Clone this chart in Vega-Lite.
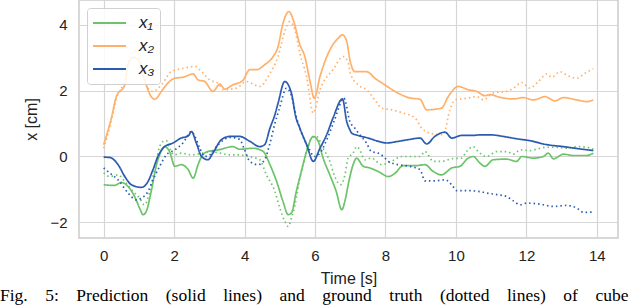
{
  "$schema": "https://vega.github.io/schema/vega-lite/v6.json",
  "width": 539,
  "height": 238,
  "autosize": "none",
  "padding": {"left": 79, "top": 0, "right": 22, "bottom": 69},
  "title": {
    "text": "Fig.\u00a0\u00a0\u00a0 5:\u00a0\u00a0\u00a0 Prediction\u00a0\u00a0\u00a0 (solid\u00a0\u00a0\u00a0 lines)\u00a0\u00a0\u00a0 and\u00a0\u00a0\u00a0 ground\u00a0\u00a0\u00a0 truth\u00a0\u00a0\u00a0 (dotted\u00a0\u00a0\u00a0 lines)\u00a0\u00a0\u00a0 of\u00a0\u00a0\u00a0 cube",
    "orient": "bottom",
    "anchor": "start",
    "frame": "group",
    "dx": -79,
    "offset": 1,
    "font": "Liberation Serif",
    "fontSize": 17.5,
    "fontWeight": "normal",
    "color": "#000000"
  },
  "config": {
    "view": {"stroke": "#cccccc", "strokeWidth": 1.5},
    "axis": {
      "labelFont": "Liberation Sans",
      "titleFont": "Liberation Sans",
      "labelFontSize": 15,
      "titleFontSize": 16,
      "titleFontWeight": "normal",
      "labelColor": "#222222",
      "titleColor": "#222222",
      "domain": false,
      "ticks": false,
      "gridColor": "#d6d6d6",
      "gridWidth": 1.2
    }
  },
  "data": {
    "values": [
      {"t":0,"v":-0.86,"s":"x₁","k":"p"},{"t":0.31,"v":-0.88,"s":"x₁","k":"p"},{"t":0.5,"v":-0.79,"s":"x₁","k":"p"},{"t":0.69,"v":-0.91,"s":"x₁","k":"p"},{"t":0.88,"v":-1.22,"s":"x₁","k":"p"},{"t":1.02,"v":-1.57,"s":"x₁","k":"p"},{"t":1.12,"v":-1.77,"s":"x₁","k":"p"},{"t":1.21,"v":-1.67,"s":"x₁","k":"p"},{"t":1.35,"v":-1.06,"s":"x₁","k":"p"},{"t":1.5,"v":-0.25,"s":"x₁","k":"p"},{"t":1.59,"v":0.05,"s":"x₁","k":"p"},{"t":1.73,"v":0.3,"s":"x₁","k":"p"},{"t":1.87,"v":0.15,"s":"x₁","k":"p"},{"t":2.02,"v":-0.3,"s":"x₁","k":"p"},{"t":2.2,"v":-0.25,"s":"x₁","k":"p"},{"t":2.4,"v":-0.4,"s":"x₁","k":"p"},{"t":2.54,"v":-0.66,"s":"x₁","k":"p"},{"t":2.68,"v":-0.25,"s":"x₁","k":"p"},{"t":2.78,"v":0,"s":"x₁","k":"p"},{"t":2.96,"v":0.15,"s":"x₁","k":"p"},{"t":3.25,"v":0.2,"s":"x₁","k":"p"},{"t":3.67,"v":0.3,"s":"x₁","k":"p"},{"t":3.86,"v":0.22,"s":"x₁","k":"p"},{"t":4.24,"v":0.25,"s":"x₁","k":"p"},{"t":4.53,"v":0.15,"s":"x₁","k":"p"},{"t":4.72,"v":-0.25,"s":"x₁","k":"p"},{"t":4.91,"v":-0.76,"s":"x₁","k":"p"},{"t":5.09,"v":-1.37,"s":"x₁","k":"p"},{"t":5.24,"v":-1.77,"s":"x₁","k":"p"},{"t":5.33,"v":-1.72,"s":"x₁","k":"p"},{"t":5.47,"v":-1.06,"s":"x₁","k":"p"},{"t":5.61,"v":-0.46,"s":"x₁","k":"p"},{"t":5.76,"v":0.15,"s":"x₁","k":"p"},{"t":5.95,"v":0.61,"s":"x₁","k":"p"},{"t":6.09,"v":0.46,"s":"x₁","k":"p"},{"t":6.23,"v":-0.05,"s":"x₁","k":"p"},{"t":6.42,"v":-0.56,"s":"x₁","k":"p"},{"t":6.6,"v":-1.06,"s":"x₁","k":"p"},{"t":6.76,"v":-1.62,"s":"x₁","k":"p"},{"t":6.86,"v":-1.3,"s":"x₁","k":"p"},{"t":6.96,"v":-0.76,"s":"x₁","k":"p"},{"t":7.08,"v":-0.25,"s":"x₁","k":"p"},{"t":7.18,"v":-0.05,"s":"x₁","k":"p"},{"t":7.37,"v":-0.3,"s":"x₁","k":"p"},{"t":7.56,"v":-0.35,"s":"x₁","k":"p"},{"t":7.8,"v":-0.46,"s":"x₁","k":"p"},{"t":8.08,"v":-0.61,"s":"x₁","k":"p"},{"t":8.27,"v":-0.51,"s":"x₁","k":"p"},{"t":8.5,"v":-0.28,"s":"x₁","k":"p"},{"t":8.84,"v":-0.28,"s":"x₁","k":"p"},{"t":9.12,"v":-0.25,"s":"x₁","k":"p"},{"t":9.36,"v":-0.46,"s":"x₁","k":"p"},{"t":9.59,"v":-0.56,"s":"x₁","k":"p"},{"t":9.88,"v":-0.35,"s":"x₁","k":"p"},{"t":10.11,"v":-0.3,"s":"x₁","k":"p"},{"t":10.35,"v":-0.05,"s":"x₁","k":"p"},{"t":10.49,"v":0,"s":"x₁","k":"p"},{"t":10.68,"v":-0.2,"s":"x₁","k":"p"},{"t":10.82,"v":-0.3,"s":"x₁","k":"p"},{"t":11.06,"v":-0.1,"s":"x₁","k":"p"},{"t":11.44,"v":-0.08,"s":"x₁","k":"p"},{"t":11.72,"v":-0.15,"s":"x₁","k":"p"},{"t":11.87,"v":0,"s":"x₁","k":"p"},{"t":12.2,"v":-0.05,"s":"x₁","k":"p"},{"t":12.48,"v":0,"s":"x₁","k":"p"},{"t":12.62,"v":0.1,"s":"x₁","k":"p"},{"t":12.77,"v":-0.07,"s":"x₁","k":"p"},{"t":13.05,"v":0.07,"s":"x₁","k":"p"},{"t":13.33,"v":0.03,"s":"x₁","k":"p"},{"t":13.71,"v":0.03,"s":"x₁","k":"p"},{"t":13.9,"v":0.1,"s":"x₁","k":"p"},

      {"t":0,"v":-0.5,"s":"x₁","k":"t"},{"t":0.17,"v":-0.61,"s":"x₁","k":"t"},{"t":0.41,"v":-0.56,"s":"x₁","k":"t"},{"t":0.6,"v":-0.76,"s":"x₁","k":"t"},{"t":0.79,"v":-1.01,"s":"x₁","k":"t"},{"t":1.02,"v":-1.27,"s":"x₁","k":"t"},{"t":1.16,"v":-1.47,"s":"x₁","k":"t"},{"t":1.31,"v":-1.06,"s":"x₁","k":"t"},{"t":1.45,"v":-0.35,"s":"x₁","k":"t"},{"t":1.59,"v":0.3,"s":"x₁","k":"t"},{"t":1.69,"v":0.46,"s":"x₁","k":"t"},{"t":1.78,"v":0.48,"s":"x₁","k":"t"},{"t":1.87,"v":0.25,"s":"x₁","k":"t"},{"t":2.0,"v":0.05,"s":"x₁","k":"t"},{"t":2.2,"v":0.1,"s":"x₁","k":"t"},{"t":2.5,"v":0.05,"s":"x₁","k":"t"},{"t":2.8,"v":0.1,"s":"x₁","k":"t"},{"t":3.0,"v":0.15,"s":"x₁","k":"t"},{"t":3.3,"v":0.1,"s":"x₁","k":"t"},{"t":3.6,"v":0.05,"s":"x₁","k":"t"},{"t":3.85,"v":0.05,"s":"x₁","k":"t"},{"t":4.1,"v":0,"s":"x₁","k":"t"},{"t":4.43,"v":-0.1,"s":"x₁","k":"t"},{"t":4.62,"v":-0.56,"s":"x₁","k":"t"},{"t":4.86,"v":-1.06,"s":"x₁","k":"t"},{"t":5.0,"v":-1.57,"s":"x₁","k":"t"},{"t":5.14,"v":-1.97,"s":"x₁","k":"t"},{"t":5.24,"v":-2.13,"s":"x₁","k":"t"},{"t":5.33,"v":-1.87,"s":"x₁","k":"t"},{"t":5.43,"v":-1.47,"s":"x₁","k":"t"},{"t":5.57,"v":-0.66,"s":"x₁","k":"t"},{"t":5.76,"v":0.15,"s":"x₁","k":"t"},{"t":5.9,"v":0.56,"s":"x₁","k":"t"},{"t":6.04,"v":0.61,"s":"x₁","k":"t"},{"t":6.23,"v":0.25,"s":"x₁","k":"t"},{"t":6.42,"v":-0.15,"s":"x₁","k":"t"},{"t":6.56,"v":-0.61,"s":"x₁","k":"t"},{"t":6.72,"v":-0.86,"s":"x₁","k":"t"},{"t":6.85,"v":-0.56,"s":"x₁","k":"t"},{"t":6.94,"v":-0.05,"s":"x₁","k":"t"},{"t":7.08,"v":0.1,"s":"x₁","k":"t"},{"t":7.18,"v":0.3,"s":"x₁","k":"t"},{"t":7.27,"v":0.2,"s":"x₁","k":"t"},{"t":7.41,"v":-0.1,"s":"x₁","k":"t"},{"t":7.6,"v":-0.05,"s":"x₁","k":"t"},{"t":7.89,"v":-0.25,"s":"x₁","k":"t"},{"t":8.17,"v":-0.15,"s":"x₁","k":"t"},{"t":8.46,"v":0,"s":"x₁","k":"t"},{"t":8.74,"v":0,"s":"x₁","k":"t"},{"t":8.98,"v":0,"s":"x₁","k":"t"},{"t":9.12,"v":0.15,"s":"x₁","k":"t"},{"t":9.36,"v":-0.15,"s":"x₁","k":"t"},{"t":9.59,"v":-0.15,"s":"x₁","k":"t"},{"t":9.88,"v":-0.07,"s":"x₁","k":"t"},{"t":10.16,"v":-0.05,"s":"x₁","k":"t"},{"t":10.3,"v":0.15,"s":"x₁","k":"t"},{"t":10.49,"v":0.3,"s":"x₁","k":"t"},{"t":10.63,"v":0.15,"s":"x₁","k":"t"},{"t":10.87,"v":0,"s":"x₁","k":"t"},{"t":11.16,"v":0.15,"s":"x₁","k":"t"},{"t":11.44,"v":0.15,"s":"x₁","k":"t"},{"t":11.63,"v":0.07,"s":"x₁","k":"t"},{"t":11.82,"v":0.2,"s":"x₁","k":"t"},{"t":12.1,"v":0.18,"s":"x₁","k":"t"},{"t":12.39,"v":0.25,"s":"x₁","k":"t"},{"t":12.58,"v":0.28,"s":"x₁","k":"t"},{"t":12.86,"v":0.28,"s":"x₁","k":"t"},{"t":13.14,"v":0.25,"s":"x₁","k":"t"},{"t":13.43,"v":0.3,"s":"x₁","k":"t"},{"t":13.71,"v":0.28,"s":"x₁","k":"t"},{"t":13.9,"v":0.22,"s":"x₁","k":"t"},

      {"t":0,"v":0.36,"s":"x₂","k":"p"},{"t":0.22,"v":1.17,"s":"x₂","k":"p"},{"t":0.36,"v":1.82,"s":"x₂","k":"p"},{"t":0.6,"v":2.18,"s":"x₂","k":"p"},{"t":0.68,"v":2.74,"s":"x₂","k":"p"},{"t":0.79,"v":2.99,"s":"x₂","k":"p"},{"t":0.86,"v":3.02,"s":"x₂","k":"p"},{"t":0.98,"v":2.94,"s":"x₂","k":"p"},{"t":1.16,"v":2.33,"s":"x₂","k":"p"},{"t":1.35,"v":1.82,"s":"x₂","k":"p"},{"t":1.45,"v":1.74,"s":"x₂","k":"p"},{"t":1.64,"v":1.98,"s":"x₂","k":"p"},{"t":1.78,"v":2.18,"s":"x₂","k":"p"},{"t":2.02,"v":2.38,"s":"x₂","k":"p"},{"t":2.25,"v":2.41,"s":"x₂","k":"p"},{"t":2.54,"v":2.51,"s":"x₂","k":"p"},{"t":2.68,"v":2.33,"s":"x₂","k":"p"},{"t":2.87,"v":2.28,"s":"x₂","k":"p"},{"t":3.1,"v":1.98,"s":"x₂","k":"p"},{"t":3.3,"v":2.2,"s":"x₂","k":"p"},{"t":3.44,"v":2.05,"s":"x₂","k":"p"},{"t":3.67,"v":2.18,"s":"x₂","k":"p"},{"t":3.94,"v":2.3,"s":"x₂","k":"p"},{"t":4.15,"v":2.64,"s":"x₂","k":"p"},{"t":4.34,"v":2.64,"s":"x₂","k":"p"},{"t":4.57,"v":2.79,"s":"x₂","k":"p"},{"t":4.81,"v":3.04,"s":"x₂","k":"p"},{"t":4.95,"v":3.34,"s":"x₂","k":"p"},{"t":5.09,"v":4.05,"s":"x₂","k":"p"},{"t":5.26,"v":4.41,"s":"x₂","k":"p"},{"t":5.38,"v":4.16,"s":"x₂","k":"p"},{"t":5.57,"v":3.4,"s":"x₂","k":"p"},{"t":5.71,"v":3.04,"s":"x₂","k":"p"},{"t":5.85,"v":2.33,"s":"x₂","k":"p"},{"t":5.98,"v":1.77,"s":"x₂","k":"p"},{"t":6.14,"v":2.43,"s":"x₂","k":"p"},{"t":6.42,"v":3.24,"s":"x₂","k":"p"},{"t":6.66,"v":3.6,"s":"x₂","k":"p"},{"t":6.78,"v":3.7,"s":"x₂","k":"p"},{"t":6.9,"v":3.5,"s":"x₂","k":"p"},{"t":6.99,"v":2.94,"s":"x₂","k":"p"},{"t":7.13,"v":2.58,"s":"x₂","k":"p"},{"t":7.46,"v":2.58,"s":"x₂","k":"p"},{"t":7.7,"v":2.38,"s":"x₂","k":"p"},{"t":7.98,"v":2.18,"s":"x₂","k":"p"},{"t":8.27,"v":1.98,"s":"x₂","k":"p"},{"t":8.69,"v":1.78,"s":"x₂","k":"p"},{"t":8.98,"v":1.74,"s":"x₂","k":"p"},{"t":9.17,"v":1.42,"s":"x₂","k":"p"},{"t":9.59,"v":1.47,"s":"x₂","k":"p"},{"t":9.78,"v":1.82,"s":"x₂","k":"p"},{"t":10.07,"v":2.13,"s":"x₂","k":"p"},{"t":10.35,"v":2.03,"s":"x₂","k":"p"},{"t":10.59,"v":1.98,"s":"x₂","k":"p"},{"t":10.82,"v":1.85,"s":"x₂","k":"p"},{"t":10.97,"v":1.88,"s":"x₂","k":"p"},{"t":11.25,"v":1.8,"s":"x₂","k":"p"},{"t":11.63,"v":1.75,"s":"x₂","k":"p"},{"t":11.91,"v":1.79,"s":"x₂","k":"p"},{"t":12.2,"v":1.72,"s":"x₂","k":"p"},{"t":12.53,"v":1.82,"s":"x₂","k":"p"},{"t":12.81,"v":1.69,"s":"x₂","k":"p"},{"t":13.05,"v":1.79,"s":"x₂","k":"p"},{"t":13.43,"v":1.72,"s":"x₂","k":"p"},{"t":13.71,"v":1.67,"s":"x₂","k":"p"},{"t":13.9,"v":1.72,"s":"x₂","k":"p"},

      {"t":0,"v":0.25,"s":"x₂","k":"t"},{"t":0.2,"v":1.0,"s":"x₂","k":"t"},{"t":0.36,"v":1.75,"s":"x₂","k":"t"},{"t":0.55,"v":2.2,"s":"x₂","k":"t"},{"t":0.7,"v":2.85,"s":"x₂","k":"t"},{"t":0.86,"v":3.22,"s":"x₂","k":"t"},{"t":1.0,"v":3.1,"s":"x₂","k":"t"},{"t":1.12,"v":2.6,"s":"x₂","k":"t"},{"t":1.26,"v":2.08,"s":"x₂","k":"t"},{"t":1.4,"v":1.98,"s":"x₂","k":"t"},{"t":1.64,"v":2.18,"s":"x₂","k":"t"},{"t":1.92,"v":2.58,"s":"x₂","k":"t"},{"t":2.3,"v":2.69,"s":"x₂","k":"t"},{"t":2.59,"v":2.74,"s":"x₂","k":"t"},{"t":2.78,"v":2.58,"s":"x₂","k":"t"},{"t":3.01,"v":2.33,"s":"x₂","k":"t"},{"t":3.25,"v":2.23,"s":"x₂","k":"t"},{"t":3.4,"v":2.03,"s":"x₂","k":"t"},{"t":3.77,"v":2.08,"s":"x₂","k":"t"},{"t":4.05,"v":2.28,"s":"x₂","k":"t"},{"t":4.43,"v":2.13,"s":"x₂","k":"t"},{"t":4.72,"v":2.53,"s":"x₂","k":"t"},{"t":4.95,"v":3.04,"s":"x₂","k":"t"},{"t":5.14,"v":3.8,"s":"x₂","k":"t"},{"t":5.28,"v":4.1,"s":"x₂","k":"t"},{"t":5.43,"v":3.85,"s":"x₂","k":"t"},{"t":5.57,"v":3.14,"s":"x₂","k":"t"},{"t":5.76,"v":2.43,"s":"x₂","k":"t"},{"t":5.95,"v":1.32,"s":"x₂","k":"t"},{"t":6.14,"v":2.03,"s":"x₂","k":"t"},{"t":6.51,"v":2.64,"s":"x₂","k":"t"},{"t":6.8,"v":3.04,"s":"x₂","k":"t"},{"t":6.94,"v":2.86,"s":"x₂","k":"t"},{"t":7.0,"v":2.53,"s":"x₂","k":"t"},{"t":7.22,"v":2.18,"s":"x₂","k":"t"},{"t":7.46,"v":2.03,"s":"x₂","k":"t"},{"t":7.7,"v":1.72,"s":"x₂","k":"t"},{"t":7.89,"v":1.47,"s":"x₂","k":"t"},{"t":8.17,"v":1.42,"s":"x₂","k":"t"},{"t":8.5,"v":1.32,"s":"x₂","k":"t"},{"t":8.84,"v":1.17,"s":"x₂","k":"t"},{"t":9.0,"v":0.9,"s":"x₂","k":"t"},{"t":9.26,"v":0.71,"s":"x₂","k":"t"},{"t":9.64,"v":0.66,"s":"x₂","k":"t"},{"t":9.83,"v":1.42,"s":"x₂","k":"t"},{"t":9.97,"v":1.72,"s":"x₂","k":"t"},{"t":10.3,"v":1.77,"s":"x₂","k":"t"},{"t":10.59,"v":1.82,"s":"x₂","k":"t"},{"t":10.78,"v":1.72,"s":"x₂","k":"t"},{"t":11.06,"v":1.93,"s":"x₂","k":"t"},{"t":11.44,"v":1.98,"s":"x₂","k":"t"},{"t":11.63,"v":2.08,"s":"x₂","k":"t"},{"t":11.87,"v":2.25,"s":"x₂","k":"t"},{"t":12.1,"v":2.08,"s":"x₂","k":"t"},{"t":12.34,"v":2.28,"s":"x₂","k":"t"},{"t":12.58,"v":2.51,"s":"x₂","k":"t"},{"t":12.72,"v":2.41,"s":"x₂","k":"t"},{"t":12.95,"v":2.58,"s":"x₂","k":"t"},{"t":13.19,"v":2.45,"s":"x₂","k":"t"},{"t":13.43,"v":2.38,"s":"x₂","k":"t"},{"t":13.66,"v":2.53,"s":"x₂","k":"t"},{"t":13.9,"v":2.67,"s":"x₂","k":"t"},

      {"t":0,"v":-0.02,"s":"x₃","k":"p"},{"t":0.17,"v":-0.03,"s":"x₃","k":"p"},{"t":0.41,"v":-0.25,"s":"x₃","k":"p"},{"t":0.6,"v":-0.61,"s":"x₃","k":"p"},{"t":0.79,"v":-0.86,"s":"x₃","k":"p"},{"t":1.07,"v":-0.94,"s":"x₃","k":"p"},{"t":1.26,"v":-0.76,"s":"x₃","k":"p"},{"t":1.4,"v":-0.4,"s":"x₃","k":"p"},{"t":1.54,"v":0,"s":"x₃","k":"p"},{"t":1.73,"v":0.3,"s":"x₃","k":"p"},{"t":1.97,"v":0.41,"s":"x₃","k":"p"},{"t":2.2,"v":0.56,"s":"x₃","k":"p"},{"t":2.4,"v":0.62,"s":"x₃","k":"p"},{"t":2.49,"v":0.76,"s":"x₃","k":"p"},{"t":2.63,"v":0.41,"s":"x₃","k":"p"},{"t":2.78,"v":0,"s":"x₃","k":"p"},{"t":2.96,"v":-0.1,"s":"x₃","k":"p"},{"t":3.1,"v":0.1,"s":"x₃","k":"p"},{"t":3.34,"v":0.51,"s":"x₃","k":"p"},{"t":3.58,"v":0.61,"s":"x₃","k":"p"},{"t":3.86,"v":0.61,"s":"x₃","k":"p"},{"t":4.15,"v":0.46,"s":"x₃","k":"p"},{"t":4.43,"v":0.3,"s":"x₃","k":"p"},{"t":4.57,"v":0.36,"s":"x₃","k":"p"},{"t":4.72,"v":0.86,"s":"x₃","k":"p"},{"t":4.86,"v":1.27,"s":"x₃","k":"p"},{"t":4.95,"v":1.62,"s":"x₃","k":"p"},{"t":5.14,"v":2.28,"s":"x₃","k":"p"},{"t":5.33,"v":1.93,"s":"x₃","k":"p"},{"t":5.45,"v":1.22,"s":"x₃","k":"p"},{"t":5.57,"v":0.86,"s":"x₃","k":"p"},{"t":5.76,"v":0.36,"s":"x₃","k":"p"},{"t":5.95,"v":-0.15,"s":"x₃","k":"p"},{"t":6.14,"v":0.25,"s":"x₃","k":"p"},{"t":6.33,"v":0.66,"s":"x₃","k":"p"},{"t":6.51,"v":1.17,"s":"x₃","k":"p"},{"t":6.78,"v":1.75,"s":"x₃","k":"p"},{"t":6.9,"v":1.06,"s":"x₃","k":"p"},{"t":6.99,"v":0.81,"s":"x₃","k":"p"},{"t":7.04,"v":0.71,"s":"x₃","k":"p"},{"t":7.22,"v":0.64,"s":"x₃","k":"p"},{"t":7.51,"v":0.56,"s":"x₃","k":"p"},{"t":7.8,"v":0.46,"s":"x₃","k":"p"},{"t":8.03,"v":0.41,"s":"x₃","k":"p"},{"t":8.36,"v":0.46,"s":"x₃","k":"p"},{"t":8.64,"v":0.51,"s":"x₃","k":"p"},{"t":8.98,"v":0.56,"s":"x₃","k":"p"},{"t":9.17,"v":0.38,"s":"x₃","k":"p"},{"t":9.4,"v":0.61,"s":"x₃","k":"p"},{"t":9.69,"v":0.74,"s":"x₃","k":"p"},{"t":9.88,"v":0.56,"s":"x₃","k":"p"},{"t":10.16,"v":0.64,"s":"x₃","k":"p"},{"t":10.45,"v":0.64,"s":"x₃","k":"p"},{"t":10.73,"v":0.66,"s":"x₃","k":"p"},{"t":10.97,"v":0.66,"s":"x₃","k":"p"},{"t":11.34,"v":0.61,"s":"x₃","k":"p"},{"t":11.72,"v":0.54,"s":"x₃","k":"p"},{"t":12.1,"v":0.48,"s":"x₃","k":"p"},{"t":12.58,"v":0.36,"s":"x₃","k":"p"},{"t":13.05,"v":0.3,"s":"x₃","k":"p"},{"t":13.52,"v":0.23,"s":"x₃","k":"p"},{"t":13.9,"v":0.18,"s":"x₃","k":"p"},

      {"t":0,"v":-0.35,"s":"x₃","k":"t"},{"t":0.17,"v":-0.5,"s":"x₃","k":"t"},{"t":0.41,"v":-0.71,"s":"x₃","k":"t"},{"t":0.69,"v":-1.11,"s":"x₃","k":"t"},{"t":0.93,"v":-1.32,"s":"x₃","k":"t"},{"t":1.07,"v":-1.27,"s":"x₃","k":"t"},{"t":1.26,"v":-1.06,"s":"x₃","k":"t"},{"t":1.4,"v":-0.71,"s":"x₃","k":"t"},{"t":1.59,"v":-0.3,"s":"x₃","k":"t"},{"t":1.78,"v":0.05,"s":"x₃","k":"t"},{"t":2.02,"v":0.2,"s":"x₃","k":"t"},{"t":2.25,"v":0.41,"s":"x₃","k":"t"},{"t":2.49,"v":0.76,"s":"x₃","k":"t"},{"t":2.59,"v":0.61,"s":"x₃","k":"t"},{"t":2.73,"v":0.25,"s":"x₃","k":"t"},{"t":2.87,"v":0,"s":"x₃","k":"t"},{"t":3.01,"v":0.05,"s":"x₃","k":"t"},{"t":3.2,"v":0.3,"s":"x₃","k":"t"},{"t":3.4,"v":0.5,"s":"x₃","k":"t"},{"t":3.6,"v":0.58,"s":"x₃","k":"t"},{"t":3.86,"v":0.52,"s":"x₃","k":"t"},{"t":4.0,"v":0.2,"s":"x₃","k":"t"},{"t":4.15,"v":-0.15,"s":"x₃","k":"t"},{"t":4.38,"v":-0.25,"s":"x₃","k":"t"},{"t":4.57,"v":-0.1,"s":"x₃","k":"t"},{"t":4.72,"v":0.4,"s":"x₃","k":"t"},{"t":4.86,"v":1.0,"s":"x₃","k":"t"},{"t":5.0,"v":1.5,"s":"x₃","k":"t"},{"t":5.19,"v":2.08,"s":"x₃","k":"t"},{"t":5.33,"v":1.85,"s":"x₃","k":"t"},{"t":5.47,"v":1.2,"s":"x₃","k":"t"},{"t":5.62,"v":0.7,"s":"x₃","k":"t"},{"t":5.8,"v":0.3,"s":"x₃","k":"t"},{"t":5.98,"v":0,"s":"x₃","k":"t"},{"t":6.14,"v":0.1,"s":"x₃","k":"t"},{"t":6.33,"v":0.5,"s":"x₃","k":"t"},{"t":6.55,"v":1.1,"s":"x₃","k":"t"},{"t":6.82,"v":1.77,"s":"x₃","k":"t"},{"t":6.99,"v":1.06,"s":"x₃","k":"t"},{"t":7.13,"v":0.86,"s":"x₃","k":"t"},{"t":7.27,"v":0.66,"s":"x₃","k":"t"},{"t":7.46,"v":0.41,"s":"x₃","k":"t"},{"t":7.6,"v":0.15,"s":"x₃","k":"t"},{"t":7.8,"v":0.1,"s":"x₃","k":"t"},{"t":7.94,"v":0,"s":"x₃","k":"t"},{"t":8.08,"v":-0.15,"s":"x₃","k":"t"},{"t":8.36,"v":-0.25,"s":"x₃","k":"t"},{"t":8.69,"v":-0.3,"s":"x₃","k":"t"},{"t":8.98,"v":-0.4,"s":"x₃","k":"t"},{"t":9.12,"v":-0.74,"s":"x₃","k":"t"},{"t":9.4,"v":-0.74,"s":"x₃","k":"t"},{"t":9.69,"v":-0.71,"s":"x₃","k":"t"},{"t":9.88,"v":-0.86,"s":"x₃","k":"t"},{"t":10.02,"v":-1.04,"s":"x₃","k":"t"},{"t":10.35,"v":-1.04,"s":"x₃","k":"t"},{"t":10.63,"v":-1.06,"s":"x₃","k":"t"},{"t":10.87,"v":-1.11,"s":"x₃","k":"t"},{"t":11.16,"v":-1.16,"s":"x₃","k":"t"},{"t":11.44,"v":-1.22,"s":"x₃","k":"t"},{"t":11.63,"v":-1.35,"s":"x₃","k":"t"},{"t":11.82,"v":-1.47,"s":"x₃","k":"t"},{"t":12.01,"v":-1.42,"s":"x₃","k":"t"},{"t":12.39,"v":-1.45,"s":"x₃","k":"t"},{"t":12.77,"v":-1.52,"s":"x₃","k":"t"},{"t":13.14,"v":-1.49,"s":"x₃","k":"t"},{"t":13.43,"v":-1.57,"s":"x₃","k":"t"},{"t":13.62,"v":-1.7,"s":"x₃","k":"t"},{"t":13.9,"v":-1.69,"s":"x₃","k":"t"}
    ]
  },
  "mark": {"type": "line", "strokeWidth": 1.7, "interpolate": "monotone"},
  "encoding": {
    "x": {
      "field": "t", "type": "quantitative",
      "scale": {"domain": [-0.7, 14.6], "nice": false, "zero": false},
      "axis": {"values": [0, 2, 4, 6, 8, 10, 12, 14], "title": "Time [s]", "labelPadding": 10, "titlePadding": 7, "labelFlush": false}
    },
    "y": {
      "field": "v", "type": "quantitative",
      "scale": {"domain": [-2.48, 4.76], "nice": false, "zero": false},
      "axis": {"values": [-2, 0, 2, 4], "title": "x [cm]", "labelPadding": 12, "titlePadding": 10, "labelFlush": false}
    },
    "color": {
      "field": "s", "type": "nominal",
      "scale": {"domain": ["x₁", "x₂", "x₃"], "range": ["#6cc46a", "#ffb06a", "#2a5bb0"]},
      "legend": {
        "title": null,
        "orient": "top-left",
        "offset": 8,
        "symbolType": "stroke",
        "symbolSize": 1089,
        "symbolStrokeWidth": 2,
        "clipHeight": 20,
        "rowPadding": 3,
        "padding": 5,
        "labelOffset": 12,
        "labelFont": "Liberation Sans",
        "labelFontStyle": "italic",
        "labelFontSize": 17,
        "labelColor": "#222222",
        "fillColor": "rgba(255,255,255,0.85)",
        "strokeColor": "#d0d0d0",
        "cornerRadius": 3
      }
    },
    "strokeDash": {
      "field": "k", "type": "nominal",
      "scale": {"domain": ["p", "t"], "range": [[1, 0], [1.5, 3]]},
      "legend": null
    }
  }
}
